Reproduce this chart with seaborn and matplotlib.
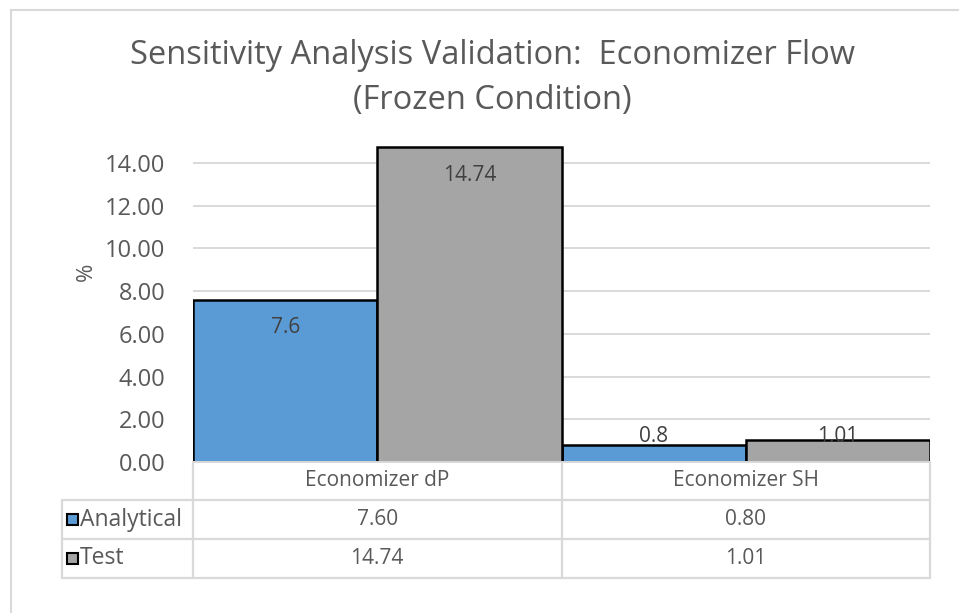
import matplotlib
matplotlib.use("Agg")
import matplotlib.pyplot as plt
import matplotlib.transforms as mtransforms
import seaborn as sns
import pandas as pd
from matplotlib.lines import Line2D
from matplotlib.patches import Rectangle

# ---------------- data ----------------
categories = ["Economizer dP", "Economizer SH"]
series_names = ["Analytical", "Test"]
analytical = [7.6, 0.8]
test = [14.74, 1.01]
yticks = [0, 2, 4, 6, 8, 10, 12, 14]
title_text = "Sensitivity Analysis Validation:  Economizer Flow\n(Frozen Condition)"
ylabel_text = "%"

# ---------------- style ----------------
colors = {"Analytical": "#5B9BD5", "Test": "#A5A5A5"}
TXT = "#595959"
LBL = "#404040"
GRID = "#D9D9D9"

sns.set_theme(style="white")
plt.rcParams["font.family"] = ["Open Sans", "DejaVu Sans"]

W, H = 959, 613
fig = plt.figure(figsize=(W / 100, H / 100), dpi=100)


def fx(x):
    return x / W


def fy(y):
    return 1 - y / H


ax_l, ax_r, ax_b = 193, 930, 462
ymax = 15
px_per = 21.357
ax_t = ax_b - ymax * px_per
ax = fig.add_axes([fx(ax_l), fy(ax_b), (ax_r - ax_l) / W, (ax_b - ax_t) / H])

df = pd.DataFrame({
    "category": categories * 2,
    "series": [series_names[0]] * len(categories) + [series_names[1]] * len(categories),
    "value": analytical + test,
})
sns.barplot(data=df, x="category", y="value", hue="series", hue_order=series_names,
            order=categories, palette=colors, width=1.0, gap=0, saturation=1,
            edgecolor="black", linewidth=1.8, errorbar=None, legend=False, ax=ax)

ax.set_xlim(-0.5, len(categories) - 0.5)
ax.set_ylim(0, ymax)
ax.set_yticks(yticks)
ax.set_yticklabels([f"{v:.2f}" for v in yticks], color=TXT, fontsize=17)
ax.tick_params(axis="y", length=0, pad=20)
ax.set_xticks([])
ax.set_xlabel("")
ax.set_ylabel("")
ax.yaxis.grid(True, color=GRID, linewidth=1.4)
ax.set_axisbelow(True)
for s in ["top", "right", "left"]:
    ax.spines[s].set_visible(False)
ax.spines["bottom"].set_color(GRID)
ax.spines["bottom"].set_linewidth(1.4)

# data labels (inside end)
for cont in ax.containers:
    for p in cont:
        h = p.get_height()
        yc = max(h - 28 / px_per, 26 / px_per)
        ax.text(p.get_x() + p.get_width() / 2, yc, f"{h:g}", ha="center", va="center",
                fontsize=15, color=LBL)

# title / y label
fig.text(fx(492), fy(78), title_text, ha="center", va="center", fontsize=23.5,
         linespacing=1.5, color=TXT)
fig.text(fx(86), fy(272), ylabel_text, rotation=90, ha="center", va="center",
         fontsize=16, color=TXT)

# ---------------- data table ----------------
tbl_left = 62
row_y = [462, 500, 539, 578]
blend = mtransforms.blended_transform_factory(ax.transData, fig.transFigure)


def hline(y, x0, x1):
    fig.add_artist(Line2D([fx(x0), fx(x1)], [fy(y), fy(y)], color=GRID, lw=1.6,
                          transform=fig.transFigure))


def vline(x, y0, y1):
    fig.add_artist(Line2D([fx(x), fx(x)], [fy(y0), fy(y1)], color=GRID, lw=1.6,
                          transform=fig.transFigure))


for y in row_y[1:]:
    hline(y, tbl_left, ax_r)
vline(tbl_left, row_y[1], row_y[3])
cat_w = (ax_r - ax_l) / len(categories)
for i in range(len(categories) + 1):
    vline(ax_l + i * cat_w, row_y[0], row_y[3])

# header row
for i, c in enumerate(categories):
    fig.text(i, fy((row_y[0] + row_y[1]) / 2), c, transform=blend, ha="center",
             va="center", fontsize=15, color=TXT)

# series rows
for r, (name, vals) in enumerate(zip(series_names, [analytical, test])):
    yc = (row_y[r + 1] + row_y[r + 2]) / 2
    fig.add_artist(Rectangle((fx(67), fy(yc + 5.5)), 11 / W, 11 / H,
                             facecolor=colors[name], edgecolor="black", lw=1.5,
                             transform=fig.transFigure))
    fig.text(fx(80), fy(yc), name, ha="left", va="center", fontsize=16.5, color=TXT)
    for i, v in enumerate(vals):
        fig.text(i, fy(yc), f"{v:.2f}", transform=blend, ha="center", va="center",
                 fontsize=15, color=TXT)

# outer chart border
fig.add_artist(Rectangle((fx(11), fy(H + 10)), (W + 10) / W, (H) / H,
                         facecolor="none", edgecolor=GRID, lw=1.5,
                         transform=fig.transFigure))

fig.savefig("out.png", dpi=100)
